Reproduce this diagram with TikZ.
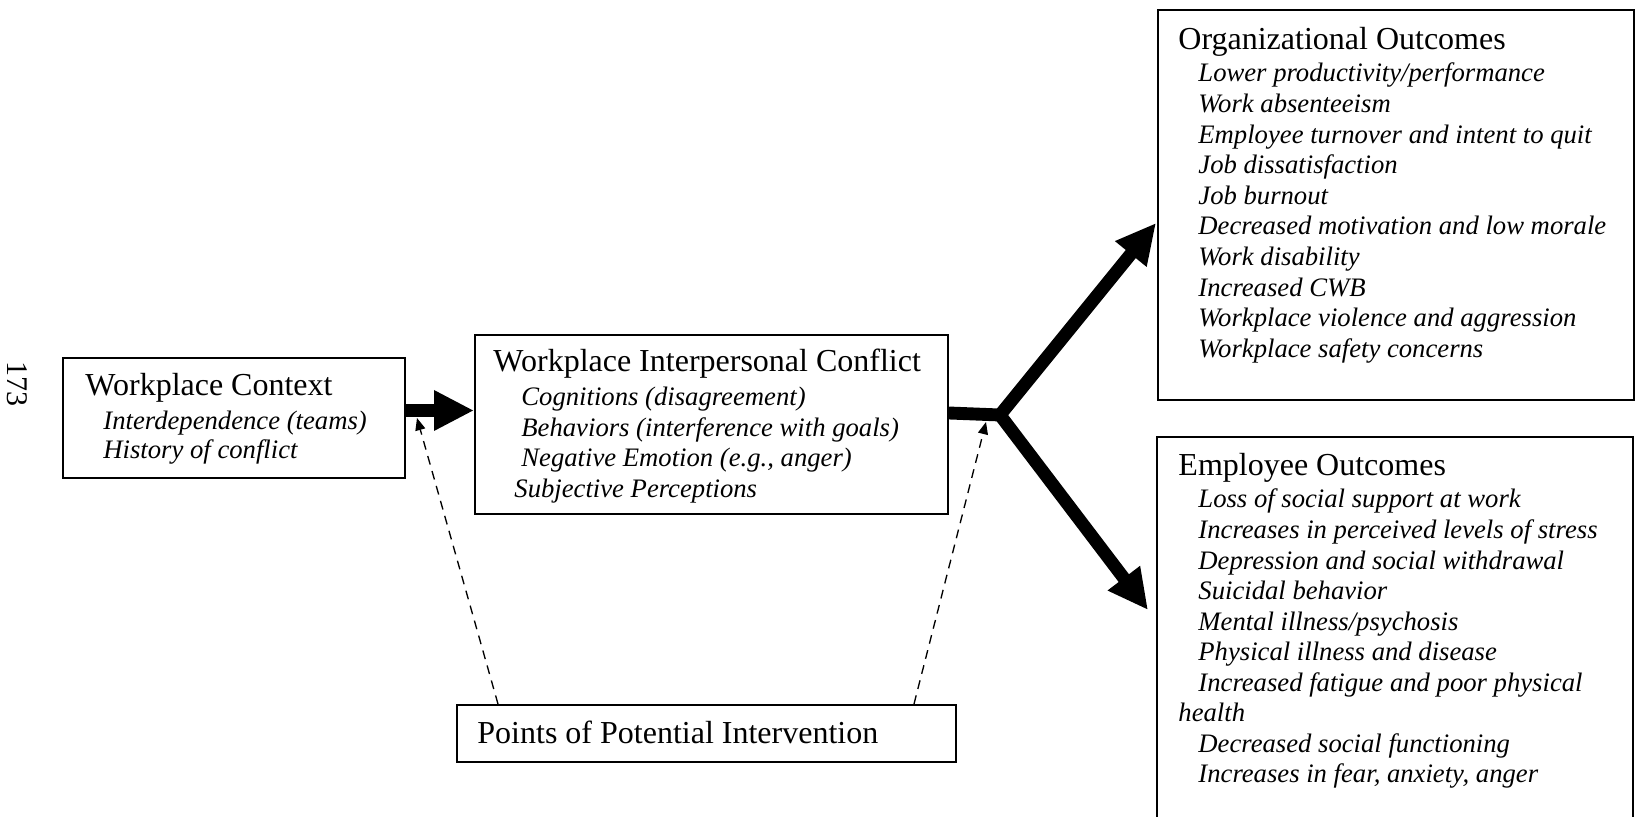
\documentclass[tikz,border=0pt]{standalone}
\usepackage{fontspec}
\setmainfont{Liberation Serif}
\usetikzlibrary{arrows.meta,calc}
\begin{document}
\begin{tikzpicture}[x=0.45pt,y=-0.45pt,
  box/.style={draw, line width=0.9pt, inner sep=0pt, anchor=north west},
  title/.style={anchor=base west, inner sep=0pt, font=\fontsize{14.4}{17}\selectfont},
  item/.style={anchor=base west, inner sep=0pt, font=\fontsize{12}{13.8}\selectfont\itshape},
  flow/.style={line width=5.8pt, -{Triangle[length=18pt,width=17pt]}},
  hint/.style={dash pattern=on 4pt off 3pt, line width=0.6pt, -{Triangle[length=5.5pt,width=4.5pt]}}]
\useasboundingbox (0,0) rectangle (1635,817);

% page number
\node[rotate=-90, inner sep=0pt, font=\fontsize{13.5}{15}\selectfont] (pg) at (17,384) {173};

% boxes
\node[box, minimum width=153.9pt, minimum height=54pt] (wc) at (62,357) {};
\node[box, minimum width=212.85pt, minimum height=80.55pt] (wic) at (474,334) {};
\node[box, minimum width=224.55pt, minimum height=25.65pt] (pts) at (456,704) {};
\node[box, minimum width=214.2pt, minimum height=175.5pt] (org) at (1157,9) {};
\draw[line width=0.9pt] (1157,817) |- (1633,437) coordinate (emp) -- (1633,817);

% Workplace Context
\node[title] (wct) at (85,396) {Workplace Context};
\node[item] (wc1) at (103,430) {Interdependence (teams)};
\node[item] (wc2) at (103,459) {History of conflict};

% Workplace Interpersonal Conflict
\node[title] (wict) at (493,372) {Workplace Interpersonal Conflict};
\node[item] (wic1) at (521,406) {Cognitions (disagreement)};
\node[item] (wic2) at (521,437) {Behaviors (interference with goals)};
\node[item] (wic3) at (521,467) {Negative Emotion (e.g., anger)};
\node[item] (wic4) at (514,498) {Subjective Perceptions};

% Points of Potential Intervention
\node[title] (ptst) at (477,744) {Points of Potential Intervention};

% Organizational Outcomes
\node[title] (orgt) at (1178,50) {Organizational Outcomes};
\foreach \t [count=\i] in {Lower productivity/performance, Work absenteeism,
    Employee turnover and intent to quit, Job dissatisfaction, Job burnout,
    Decreased motivation and low morale, Work disability, Increased CWB,
    Workplace violence and aggression, Workplace safety concerns}
  \node[item] (org\i) at (1198,{82+30.6*(\i-1)}) {\t};

% Employee Outcomes
\node[title] (empt) at (1178,476) {Employee Outcomes};
\foreach \t [count=\i] in {Loss of social support at work,
    Increases in perceived levels of stress, Depression and social withdrawal,
    Suicidal behavior, Mental illness/psychosis, Physical illness and disease,
    Increased fatigue and poor physical}
  \node[item] (emp\i) at (1198,{508+30.6*(\i-1)}) {\t};
\node[item] (emp8) at (1178,722) {health};
\node[item] (emp9) at (1198,753) {Decreased social functioning};
\node[item] (emp10) at (1198,783) {Increases in fear, anxiety, anger};

% thick flow arrows
\coordinate (lvl) at (0,410.5);
\coordinate (lvr) at (0,413);
\coordinate (jn) at (1000,415);
\coordinate (ot) at (1156,223);
\coordinate (et) at (1148,610);
\draw[flow] (wc.east |- lvl) -- (wic.west |- lvl);
\draw[flow] (wic.east |- lvr) -- (jn) -- (ot);
\draw[flow] (jn) -- (et);

% dashed intervention arrows
\coordinate (lt) at (417,418);
\coordinate (rt) at (986,422);
\draw[hint] ($(pts.north west)+(42,0)$) -- (lt);
\draw[hint] ($(pts.north west)+(458,0)$) -- (rt);
\end{tikzpicture}
\end{document}
